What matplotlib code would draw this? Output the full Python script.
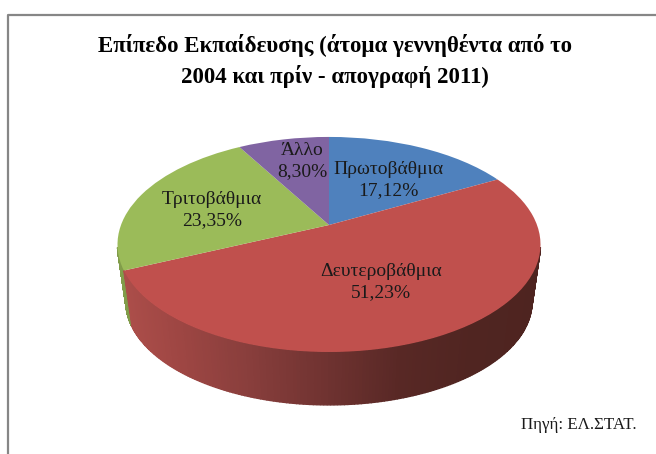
import numpy as np
import matplotlib
matplotlib.use('Agg')
import matplotlib.pyplot as plt
from matplotlib.transforms import Transform

categories = ['Πρωτοβάθμια', 'Δευτεροβάθμια', 'Τριτοβάθμια', 'Άλλο']
values = [17.12, 51.23, 23.35, 8.30]
colors = ['#4f81bd', '#c0504d', '#9bbb59', '#8064a2']
title = 'Επίπεδο Εκπαίδευσης (άτομα γεννηθέντα από το\n2004 και πρίν - απογραφή 2011)'
source = 'Πηγή: ΕΛ.ΣΤΑΤ.'

# where each label sits on the picture, in pixels
label_pos = [(388, 180), (381, 282), (212, 210), (302, 161)]


class Tilt(Transform):
    # unit circle of the pie -> tilted disc with perspective, in pixels
    input_dims = 2
    output_dims = 2

    def __init__(self, scale=1.0, apex_y=225.0):
        super().__init__()
        self.scale = scale
        self.apex_y = apex_y

    def transform_non_affine(self, xy):
        xy = np.asarray(xy, dtype=float)
        w = 1 + 0.181 * xy[:, 1]
        x = 329 + self.scale * 208 * xy[:, 0] / w
        y = self.apex_y - self.scale * 104 * xy[:, 1] / w
        return np.column_stack([x, y])


def rim(theta_deg, tilt):
    t = np.radians(theta_deg)
    return tilt.transform_non_affine(np.column_stack([np.sin(t), np.cos(t)]))


def wall_color(x, stops_x, stops_rgb):
    return [np.interp(x, stops_x, [c[i] for c in stops_rgb]) / 255 for i in range(3)]


def draw_wall(ax, start, stop, stops_x, stops_rgb):
    top = Tilt()
    bottom = Tilt(scale=0.96, apex_y=283.0)
    steps = np.linspace(start, stop, 181)
    up = rim(steps, top)
    down = rim(steps, bottom)
    for i in range(len(steps) - 1):
        xs = [up[i, 0], up[i + 1, 0], down[i + 1, 0], down[i, 0]]
        ys = [up[i, 1], up[i + 1, 1], down[i + 1, 1], down[i, 1]]
        c = wall_color(np.mean(xs), stops_x, stops_rgb)
        ax.fill(xs, ys, color=c, lw=1.0, zorder=1)


fig = plt.figure(figsize=(6.56, 4.54), dpi=100, facecolor='white')
ax = fig.add_axes([0, 0, 1, 1])

wedges, _ = ax.pie(values, colors=colors, startangle=90, counterclock=False,
                   wedgeprops={'linewidth': 0})
for w in wedges:
    w.set_transform(Tilt() + ax.transData)
    w.set_zorder(3)

ax.set_aspect('auto')
ax.set_xlim(0, 656)
ax.set_ylim(454, 0)
ax.axis('off')

# side of the disc, angles clockwise from the top
# the back of the side is hidden, so stop it at the widest point of the disc
edges = np.cumsum(values) / sum(values) * 360
draw_wall(ax, edges[1], min(edges[2], 258), [117, 135], [(130, 160, 75), (125, 150, 70)])
draw_wall(ax, max(edges[0], 102), edges[1],
          [125, 180, 250, 330, 400, 470, 540],
          [(172, 78, 74), (158, 70, 67), (136, 62, 60), (110, 50, 48),
           (88, 40, 37), (80, 37, 33), (78, 36, 32)])

# chart frame, only top and left show in the crop
ax.plot([8, 8, 656], [454, 15, 15], color='#868686', lw=1.6, zorder=2)

serif = 'Liberation Serif'
for name, v, pos in zip(categories, values, label_pos):
    txt = name + '\n' + f'{v:.2f}'.replace('.', ',') + '%'
    ax.text(pos[0], pos[1], txt, family=serif, fontsize=14, color='#1a1a1a',
            ha='center', va='center', linespacing=1.25, zorder=5)

ax.text(335, 61, title, family=serif, fontsize=16.5, fontweight='bold', color='black',
        ha='center', va='center', linespacing=1.4, zorder=5)
ax.text(579, 425, source, family=serif, fontsize=12.2, color='#1a1a1a',
        ha='center', va='center', zorder=5)

fig.savefig('out.png', dpi=100)
